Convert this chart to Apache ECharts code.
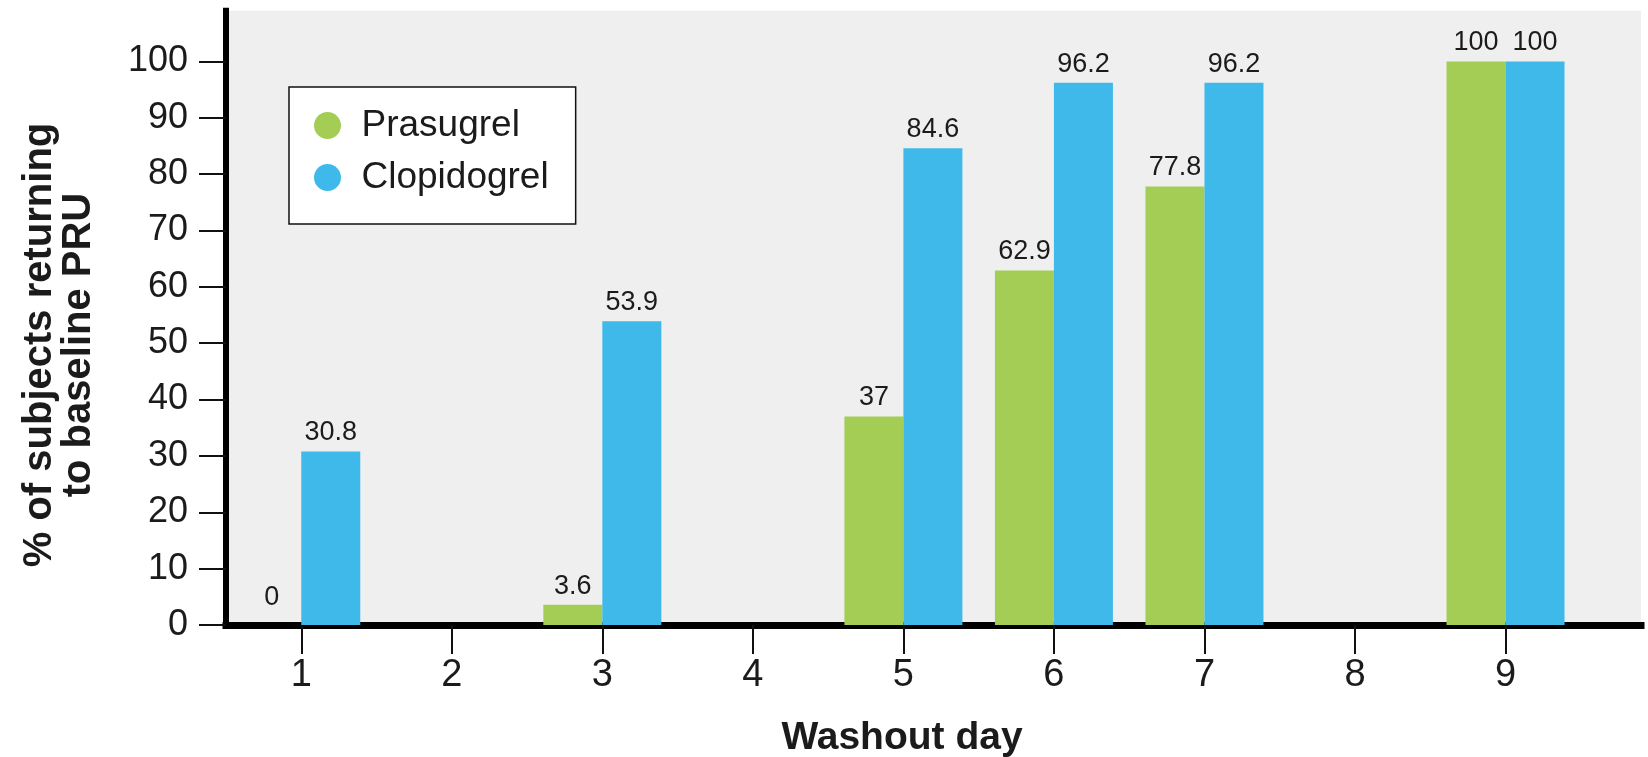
<!DOCTYPE html>
<html>
<head>
<meta charset="utf-8">
<title>Washout day</title>
<script src="https://cdn.jsdelivr.net/npm/echarts@6/dist/echarts.min.js"></script>
<style>
  html, body { margin: 0; padding: 0; background: #ffffff; }
  #chart { width: 1648px; height: 757px; }
</style>
</head>
<body>
<div id="chart"></div>
<script>
// Washout days shown on the horizontal axis
const days = [1, 2, 3, 4, 5, 6, 7, 8, 9];
// % of subjects returning to baseline PRU (null = not measured that day)
const prasugrel = [0, null, 3.6, null, 37, 62.9, 77.8, null, 100];
const clopidogrel = [30.8, null, 53.9, null, 84.6, 96.2, 96.2, null, 100];
// Vertical axis tick labels
const yTicks = [0, 10, 20, 30, 40, 50, 60, 70, 80, 90, 100];

const FONT = '"Liberation Sans", Arial, Helvetica, sans-serif';
const GREEN = '#a4cd55';
const BLUE = '#3fb9e9';
const INK = '#1b1b1b';

// Build [day, value] items; a zero-height bar gets its label lifted a little
function pairs(values) {
  return days
    .map((d, i) => [d, values[i]])
    .filter(p => p[1] !== null)
    .map(p => (p[1] === 0 ? { value: p, label: { distance: 14 } } : { value: p }));
}

const barLabel = {
  show: true,
  position: 'top',
  distance: 5,
  color: INK,
  fontFamily: FONT,
  fontSize: 27,
  formatter: p => String(p.value[1])
};

const chart = echarts.init(document.getElementById('chart'), null, { renderer: 'canvas' });

chart.setOption({
  animation: false,
  backgroundColor: '#ffffff',
  textStyle: { fontFamily: FONT, color: INK },
  grid: {
    left: 226,
    right: 7,
    top: 10.7,
    bottom: 132,
    show: true,
    backgroundColor: '#efefef',
    borderWidth: 0,
    containLabel: false
  },
  legend: {
    orient: 'vertical',
    left: 289,
    top: 87,
    padding: [20, 27, 28, 25],
    backgroundColor: '#ffffff',
    borderColor: '#111111',
    borderWidth: 1.5,
    borderRadius: 0,
    icon: 'circle',
    itemWidth: 58,
    itemHeight: 27,
    itemGap: 15,
    textStyle: { fontFamily: FONT, fontSize: 37, color: INK, lineHeight: 37 },
    data: ['Prasugrel', 'Clopidogrel']
  },
  xAxis: {
    type: 'value',
    min: 0.5,
    max: 9.9,
    axisLine: { show: true, onZero: false, lineStyle: { color: '#000', width: 7, cap: 'square' } },
    axisTick: { show: true, customValues: days, length: 29, lineStyle: { color: '#111', width: 2 } },
    axisLabel: { show: true, customValues: days, margin: 32, fontFamily: FONT, fontSize: 38, color: INK },
    splitLine: { show: false }
  },
  yAxis: {
    type: 'value',
    min: 0,
    max: 109,
    axisLine: { show: true, lineStyle: { color: '#000', width: 6, cap: 'square' } },
    axisTick: { show: true, customValues: yTicks, length: 27, lineStyle: { color: '#111', width: 2 } },
    axisLabel: { show: true, customValues: yTicks, margin: 38, fontFamily: FONT, fontSize: 36, color: INK },
    splitLine: { show: false }
  },
  graphic: [
    {
      type: 'text',
      x: 59,
      y: 345,
      rotation: Math.PI / 2,
      style: {
        text: '% of subjects returning\nto baseline PRU',
        font: 'bold 40px ' + FONT,
        lineHeight: 39,
        fill: INK,
        align: 'center',
        verticalAlign: 'middle'
      }
    },
    {
      type: 'text',
      x: 902,
      y: 738,
      style: {
        text: 'Washout day',
        font: 'bold 39px ' + FONT,
        fill: INK,
        align: 'center',
        verticalAlign: 'middle'
      }
    }
  ],
  series: [
    {
      name: 'Prasugrel',
      type: 'bar',
      barWidth: 59,
      barGap: '0%',
      itemStyle: { color: GREEN },
      label: barLabel,
      data: pairs(prasugrel)
    },
    {
      name: 'Clopidogrel',
      type: 'bar',
      barWidth: 59,
      barGap: '0%',
      itemStyle: { color: BLUE },
      label: barLabel,
      data: pairs(clopidogrel)
    }
  ]
});
</script>
</body>
</html>
